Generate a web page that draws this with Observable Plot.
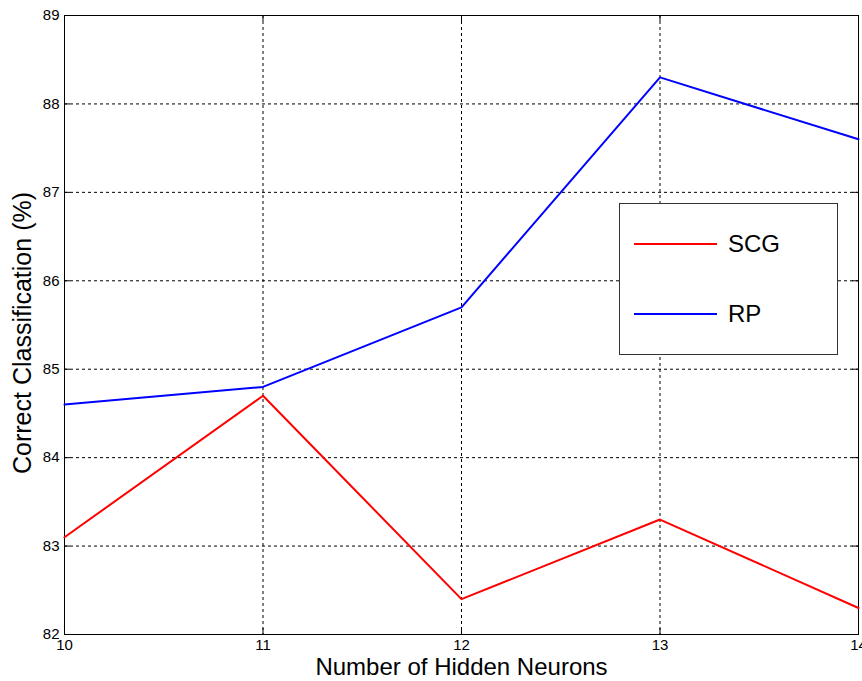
<!DOCTYPE html>
<html><head><meta charset="utf-8">
<script src="https://cdn.jsdelivr.net/npm/d3@7"></script>
<script src="https://cdn.jsdelivr.net/npm/@observablehq/plot@0.6"></script>
<style>
body{margin:0;background:#fff;}
#wrap{position:relative;width:862px;height:681px;font-family:"Liberation Sans",Arial,sans-serif;}
#legend{position:absolute;left:619px;top:203px;width:217px;height:150px;border:1px solid #333;background:#fff;}
.item{position:absolute;left:14px;height:30px;display:flex;align-items:center;}
.swatch{width:83px;height:2px;margin-right:11px;}
.lab{font-size:24px;color:#000;}
</style>
</head><body><div id="wrap"></div>
<script>
const neurons = [10, 11, 12, 13, 14];
const scg = [83.1, 84.7, 82.4, 83.3, 82.3];
const rp = [84.6, 84.8, 85.7, 88.3, 87.6];
const seriesNames = ["SCG", "RP"];
const seriesColors = ["#ff0000", "#0000ff"];
const xTicks = [10, 11, 12, 13, 14];
const yTicks = [82, 83, 84, 85, 86, 87, 88, 89];
const xLabel = "Number of Hidden Neurons";
const yLabel = "Correct Classification (%)";

const data = [
  ...neurons.map((n, i) => ({n, v: scg[i], s: seriesNames[0]})),
  ...neurons.map((n, i) => ({n, v: rp[i], s: seriesNames[1]}))
];

const W = 862, H = 681, mL = 64, mR = 4, mT = 15, mB = 47;
const fw = W - mL - mR, fh = H - mT - mB, tl = 6;
const tickFont = "'Liberation Sans Narrow','Liberation Sans',Arial,sans-serif";
const fmt = d => String(d);

const chart = Plot.plot({
  width: W, height: H,
  marginLeft: mL, marginRight: mR, marginTop: mT, marginBottom: mB,
  style: {fontFamily: "'Liberation Sans',Arial,sans-serif", background: "#fff", color: "#000"},
  x: {domain: [10, 14]},
  y: {domain: [82, 89]},
  color: {domain: seriesNames, range: seriesColors},
  marks: [
    Plot.gridX(xTicks, {stroke: "#000", strokeOpacity: 1, strokeDasharray: "3,3", strokeWidth: 1}),
    Plot.gridY(yTicks, {stroke: "#000", strokeOpacity: 1, strokeDasharray: "3,3", strokeWidth: 1}),
    Plot.tickX(xTicks, {x: d => d, insetTop: fh - tl, stroke: "#000"}),
    Plot.tickX(xTicks, {x: d => d, insetBottom: fh - tl, stroke: "#000"}),
    Plot.tickY(yTicks, {y: d => d, insetRight: fw - tl, stroke: "#000"}),
    Plot.tickY(yTicks, {y: d => d, insetLeft: fw - tl, stroke: "#000"}),
    Plot.axisX(xTicks, {tickSize: 0, tickPadding: 5, fontSize: 15, fontFamily: tickFont, tickFormat: fmt, label: null}),
    Plot.axisY(yTicks, {tickSize: 0, tickPadding: 5, fontSize: 15, fontFamily: tickFont, tickFormat: fmt, label: null}),
    Plot.frame({stroke: "#000", strokeWidth: 1}),
    Plot.line(data, {x: "n", y: "v", z: "s", stroke: "s", strokeWidth: 2}),
    Plot.text([xLabel], {text: d => d, frameAnchor: "bottom", dy: 40, fontSize: 24, fill: "#000"}),
    Plot.text([yLabel], {text: d => d, frameAnchor: "left", textAnchor: "middle", rotate: -90, dx: -42, dy: 8, fontSize: 25, fill: "#000"})
  ]
});

const wrap = document.getElementById("wrap");
wrap.appendChild(chart);
const legend = document.createElement("div");
legend.id = "legend";
const tops = [25, 95];
seriesNames.forEach((name, i) => {
  const it = document.createElement("div");
  it.className = "item";
  it.style.top = tops[i] + "px";
  it.innerHTML = `<div class="swatch" style="background:${seriesColors[i]}"></div><span class="lab">${name}</span>`;
  legend.appendChild(it);
});
wrap.appendChild(legend);
</script>
</body></html>
